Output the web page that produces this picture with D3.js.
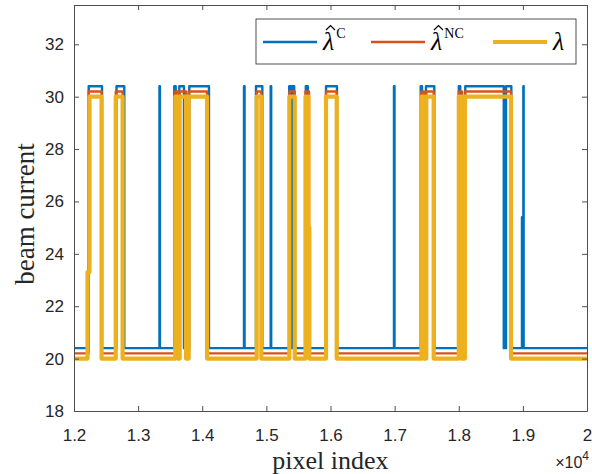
<!DOCTYPE html>
<html>
<head>
<meta charset="utf-8">
<script src="https://cdn.jsdelivr.net/npm/d3@7"></script>
<style>
  body { margin: 0; background: #fff; }
  .tick text { font-family: "Liberation Sans", Arial, sans-serif; font-size: 17px; fill: #262626; }
  .axis path, .axis line { stroke: #4d4d4d; }
</style>
</head>
<body>
<div id="chart"></div>
<script>
var width = 592;
var height = 474;

// each series is a step function: [pixel index, beam current] at every change
var lambdaC = [
  [12000, 20.4], [12229, 30.4], [12437, 20.4], [12663, 30.4], [12784, 20.4],
  [13333, 30.4], [13340, 20.4], [13564, 30.4], [13586, 20.4], [13642, 30.4],
  [13715, 20.4], [13798, 30.4], [14105, 20.4], [14651, 30.4], [14660, 20.4],
  [14838, 30.4], [14937, 20.4], [15067, 30.4], [15075, 20.4], [15356, 30.4],
  [15392, 20.4], [15401, 30.4], [15434, 20.4], [15615, 30.4], [15646, 20.4],
  [15930, 30.4], [16101, 20.4], [16990, 30.4], [16998, 20.4], [17407, 30.4],
  [17427, 20.4], [17489, 30.4], [17619, 20.4], [18001, 30.4], [18023, 20.4],
  [18102, 30.4], [18702, 20.4], [18737, 30.4], [18820, 20.4], [18986, 25.4],
  [19007, 30.4], [19012, 20.4], [20000, 20.4]
];

var lambdaNC = [
  [12000, 20.2], [12230, 30.2], [12430, 20.2], [12651, 30.2], [12758, 20.2],
  [13580, 30.2], [13614, 20.2], [13648, 30.2], [13747, 20.2], [13789, 30.2],
  [14075, 20.2], [14849, 30.2], [14921, 20.2], [15358, 30.2], [15443, 20.2],
  [15610, 30.2], [15665, 20.2], [15930, 30.2], [16097, 20.2], [17419, 30.2],
  [17457, 20.2], [17494, 30.2], [17609, 20.2], [18001, 30.2], [18048, 20.2],
  [18096, 30.2], [18815, 20.2], [20000, 20.2]
];

var lambdaTrue = [
  [12000, 20], [12211, 23.3], [12242, 30], [12430, 20], [12651, 30],
  [12758, 20], [13580, 30], [13614, 20], [13648, 30], [13747, 20],
  [13789, 30], [14075, 20], [14849, 30], [14921, 20], [15358, 30],
  [15443, 20], [15610, 30], [15657, 25], [15670, 20], [15930, 30],
  [16097, 20], [17419, 30], [17457, 20], [17494, 30], [17609, 20],
  [18001, 30], [18048, 20], [18096, 30], [18815, 20], [20000, 20]
];

var xTicks = [12000, 13000, 14000, 15000, 16000, 17000, 18000, 19000, 20000];
var xTickLabels = ["1.2", "1.3", "1.4", "1.5", "1.6", "1.7", "1.8", "1.9", "2"];
var yTicks = [18, 20, 22, 24, 26, 28, 30, 32];

var colors = ["#0072BD", "#D95319", "#EDB120"];

var svg = d3.select('#chart')
    .append('svg')
    .attr("width", width)
    .attr("height", height)
    .style("display", "block");

var plot = {left: 74, right: 587, top: 5, bottom: 411};

var xScale = d3.scaleLinear().domain([12000, 20000]).range([plot.left, plot.right]);
var yScale = d3.scaleLinear().domain([18, 33.5]).range([plot.bottom, plot.top]);

svg.append("defs").append("clipPath").attr("id", "clip")
  .append("rect")
  .attr("x", plot.left).attr("y", plot.top)
  .attr("width", plot.right - plot.left).attr("height", plot.bottom - plot.top);

var lineFunc = d3.line()
    .x(function(d) { return xScale(d[0]); })
    .y(function(d) { return yScale(d[1]); })
    .curve(d3.curveStepAfter);

var lines = svg.append("g").attr("clip-path", "url(#clip)");
var seriesList = [lambdaC, lambdaNC, lambdaTrue];
var widths = [2.4, 2.4, 4.2];
for (var i = 0; i < seriesList.length; i++) {
  lines.append("path")
    .attr("d", lineFunc(seriesList[i]))
    .attr("fill", "none")
    .attr("stroke", colors[i])
    .attr("stroke-width", widths[i])
    .attr("stroke-linejoin", "round")
    .attr("stroke-linecap", "round");
}

// axes, MATLAB style box with ticks pointing inside
var xAxis = d3.axisBottom(xScale).tickValues(xTicks)
    .tickFormat(function(d, i) { return xTickLabels[i]; })
    .tickSizeInner(-5).tickSizeOuter(0).tickPadding(18);
svg.append("g").attr("class", "axis")
    .attr("transform", "translate(0," + plot.bottom + ")")
    .call(xAxis);

svg.append("g").attr("class", "axis")
    .attr("transform", "translate(0," + plot.top + ")")
    .call(d3.axisTop(xScale).tickValues(xTicks).tickFormat("").tickSizeInner(-5).tickSizeOuter(0));

var yAxis = d3.axisLeft(yScale).tickValues(yTicks)
    .tickSizeInner(-5).tickSizeOuter(0).tickPadding(10);
svg.append("g").attr("class", "axis")
    .attr("transform", "translate(" + plot.left + ",0)")
    .call(yAxis);

svg.append("g").attr("class", "axis")
    .attr("transform", "translate(" + plot.right + ",0)")
    .call(d3.axisRight(yScale).tickValues(yTicks).tickFormat("").tickSizeInner(-5).tickSizeOuter(0));

svg.selectAll(".axis .domain").attr("stroke", "#4d4d4d");

// axis labels
svg.append("text")
  .attr("x", (plot.left + plot.right) / 2)
  .attr("y", 469)
  .attr("text-anchor", "middle")
  .style("font-family", "'Liberation Serif', serif")
  .style("font-size", "26px")
  .style("fill", "#262626")
  .text("pixel index");

svg.append("text")
  .attr("transform", "translate(34," + ((plot.top + plot.bottom) / 2 + 6) + ") rotate(-90)")
  .attr("text-anchor", "middle")
  .style("font-family", "'Liberation Serif', serif")
  .style("font-size", "27px")
  .style("fill", "#262626")
  .text("beam current");

var expo = svg.append("text")
  .attr("x", 589).attr("y", 468)
  .attr("text-anchor", "end")
  .style("font-family", "'Liberation Sans', Arial, sans-serif")
  .style("font-size", "16px")
  .style("fill", "#262626");
expo.append("tspan").text("\u00d710");
expo.append("tspan").attr("dy", -8).style("font-size", "12px").text("4");

// legend
var legend = svg.append("g");
legend.append("rect")
  .attr("x", 256).attr("y", 19)
  .attr("width", 320).attr("height", 45)
  .attr("fill", "#fff")
  .attr("stroke", "#262626")
  .attr("stroke-width", 0.8);

var legendItems = [
  {x: 263, hat: true, sup: "C"},
  {x: 371, hat: true, sup: "NC"},
  {x: 493, hat: false, sup: ""}
];
legendItems.forEach(function(item, i) {
  legend.append("line")
    .attr("x1", item.x).attr("x2", item.x + 54)
    .attr("y1", 42).attr("y2", 42)
    .attr("stroke", colors[i])
    .attr("stroke-width", widths[i]);
  var tx = item.x + 60;
  var t = legend.append("text")
    .attr("x", tx).attr("y", 50)
    .style("font-family", "'Liberation Serif', serif")
    .style("fill", "#000");
  t.append("tspan")
    .style("font-style", "italic")
    .style("font-size", "26px")
    .text("\u03bb");
  if (item.hat) {
    t.append("tspan")
      .attr("dx", 2).attr("dy", -12)
      .style("font-size", "14px")
      .text(item.sup);
    // hat accent over the lambda
    legend.append("path")
      .attr("d", "M" + (tx + 3) + ",30 L" + (tx + 7.5) + ",25.5 L" + (tx + 12) + ",30")
      .attr("fill", "none")
      .attr("stroke", "#000")
      .attr("stroke-width", 1.2);
  }
});
</script>
</body>
</html>
